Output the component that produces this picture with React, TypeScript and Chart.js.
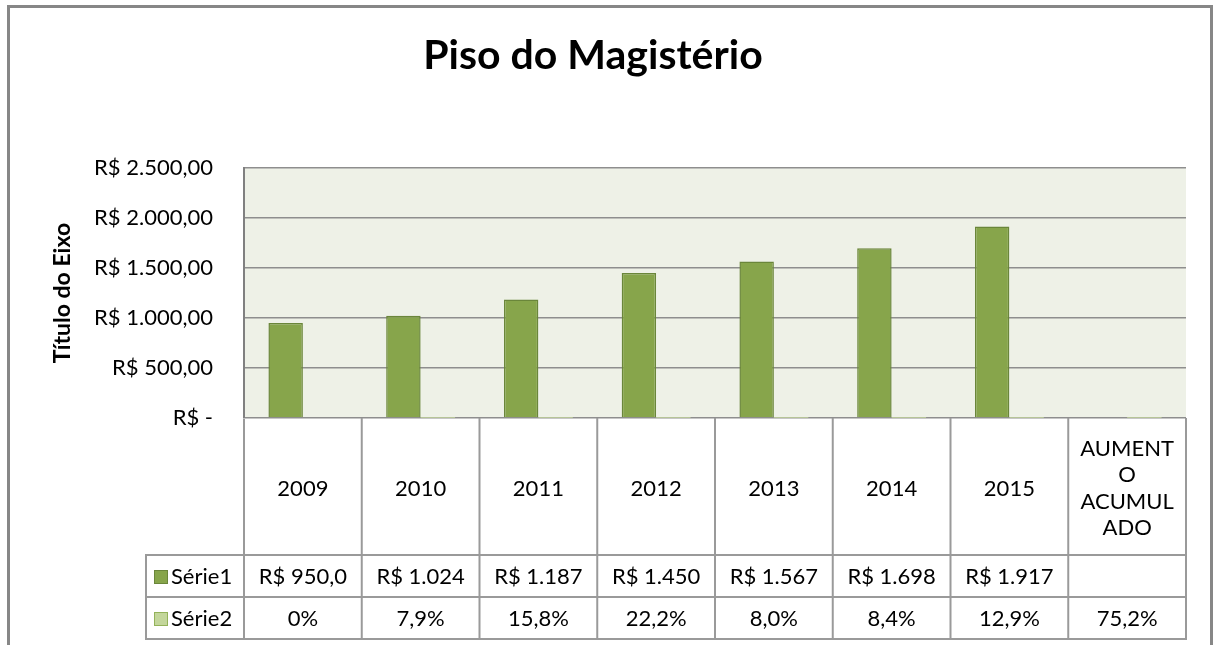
import React, { useEffect, useRef } from 'react';
import { Chart, registerables } from 'chart.js';

Chart.register(...registerables);

// ---- data ----
const categoryLabels: string[][] = [
  ['2009'], ['2010'], ['2011'], ['2012'], ['2013'], ['2014'], ['2015'],
  ['AUMENT', 'O', 'ACUMUL', 'ADO'],
];
const serie1Values: (number | null)[] = [950, 1024, 1187, 1450, 1567, 1698, 1917, null];
const serie2Values: number[] = [0, 0.079, 0.158, 0.222, 0.08, 0.084, 0.129, 0.752];
const serie1Labels: string[] = ['R$ 950,0', 'R$ 1.024', 'R$ 1.187', 'R$ 1.450', 'R$ 1.567', 'R$ 1.698', 'R$ 1.917', ''];
const serie2Labels: string[] = ['0%', '7,9%', '15,8%', '22,2%', '8,0%', '8,4%', '12,9%', '75,2%'];
const yTickLabels: string[] = ['R$ -', 'R$ 500,00', 'R$ 1.000,00', 'R$ 1.500,00', 'R$ 2.000,00', 'R$ 2.500,00'];
const seriesNames: string[] = ['Série1', 'Série2'];
const chartTitle = 'Piso do Magistério';
const axisTitle = 'Título do Eixo';

const FONT = 'Lato';
const S1_FILL = '#87A54B';
const S1_BORDER = '#6A863A';
const S2_FILL = '#C3D69B';
const S2_BORDER = '#93B25A';
const PLOT_BG = '#EEF1E7';
const TABLE_LINE = '#9a9a9a';

const backgroundPlugin = {
  id: 'bgFrame',
  beforeDraw(chart: any) {
    const { ctx, chartArea } = chart;
    ctx.save();
    ctx.fillStyle = '#ffffff';
    ctx.fillRect(0, 0, chart.width, chart.height);
    ctx.fillStyle = PLOT_BG;
    ctx.fillRect(chartArea.left, chartArea.top, chartArea.right - chartArea.left, chartArea.bottom - chartArea.top);
    ctx.strokeStyle = '#878787';
    ctx.lineWidth = 3;
    ctx.strokeRect(8.5, 6.5, chart.width - 11, chart.height + 50);
    ctx.restore();
  },
};

const tablePlugin = {
  id: 'dataTable',
  afterDraw(chart: any) {
    const { ctx, chartArea } = chart;
    const xs = chart.scales.x;
    const n = categoryLabels.length;
    const w = (chartArea.right - chartArea.left) / n;
    const bounds: number[] = [];
    for (let i = 0; i < n; i++) bounds.push(xs.getPixelForValue(i) - w / 2);
    bounds.push(xs.getPixelForValue(n - 1) + w / 2);
    const headerTop = chartArea.bottom;
    const headerBottom = headerTop + 137;
    const row1Bottom = headerBottom + 42;
    const row2Bottom = row1Bottom + 42;
    const legendLeft = chartArea.left - 98;

    ctx.save();
    ctx.strokeStyle = TABLE_LINE;
    ctx.lineWidth = 2;
    ctx.beginPath();
    bounds.forEach((b, i) => {
      ctx.moveTo(b, i === 0 ? headerTop + 1 : headerTop);
      ctx.lineTo(b, row2Bottom);
    });
    ctx.moveTo(legendLeft, headerBottom);
    ctx.lineTo(legendLeft, row2Bottom);
    [headerBottom, row1Bottom, row2Bottom].forEach((y) => {
      ctx.moveTo(legendLeft - 1, y);
      ctx.lineTo(chartArea.right + 1, y);
    });
    ctx.stroke();

    ctx.fillStyle = '#000000';
    ctx.textAlign = 'center';
    ctx.textBaseline = 'middle';
    ctx.font = `22px ${FONT}`;
    const lh = 26.5;
    const hMid = (headerTop + headerBottom) / 2 + 2;
    categoryLabels.forEach((lines, i) => {
      const cx = xs.getPixelForValue(i);
      const start = hMid - ((lines.length - 1) * lh) / 2;
      lines.forEach((t, j) => ctx.fillText(t, cx, start + j * lh));
    });
    const r1Mid = (headerBottom + row1Bottom) / 2 + 1;
    const r2Mid = (row1Bottom + row2Bottom) / 2 + 1;
    serie1Labels.forEach((t, i) => ctx.fillText(t, xs.getPixelForValue(i), r1Mid));
    serie2Labels.forEach((t, i) => ctx.fillText(t, xs.getPixelForValue(i), r2Mid));

    // legend keys
    const keys = [
      { name: seriesNames[0], fill: S1_FILL, border: S1_BORDER, y: r1Mid },
      { name: seriesNames[1], fill: S2_FILL, border: S2_BORDER, y: r2Mid },
    ];
    keys.forEach((k) => {
      ctx.fillStyle = k.fill;
      ctx.fillRect(legendLeft + 8, k.y - 7, 14, 14);
      ctx.strokeStyle = k.border;
      ctx.lineWidth = 1;
      ctx.strokeRect(legendLeft + 8.5, k.y - 6.5, 13, 13);
      ctx.fillStyle = '#000000';
      ctx.textAlign = 'left';
      ctx.fillText(k.name, legendLeft + 25, k.y);
    });
    ctx.restore();
  },
};

export default function App() {
  const canvasRef = useRef<HTMLCanvasElement | null>(null);

  useEffect(() => {
    document.body.style.margin = '0';
    const canvas = canvasRef.current;
    if (!canvas) return;
    const chart = new Chart(canvas, {
      type: 'bar',
      data: {
        labels: categoryLabels.map((l) => l.join(' ')),
        datasets: [
          {
            label: seriesNames[0],
            data: serie1Values,
            backgroundColor: S1_FILL,
            borderColor: S1_BORDER,
            borderWidth: 1.5,
            barPercentage: 1,
            categoryPercentage: 0.585,
          },
          {
            label: seriesNames[1],
            data: serie2Values,
            backgroundColor: S2_FILL,
            borderColor: S2_BORDER,
            borderWidth: 0,
            barPercentage: 1,
            categoryPercentage: 0.585,
          },
        ],
      },
      options: {
        responsive: false,
        animation: false,
        devicePixelRatio: 1,
        layout: { padding: { left: 0, right: 28, top: 0, bottom: 227 } },
        plugins: {
          legend: { display: false },
          tooltip: { enabled: false },
          title: {
            display: true,
            text: chartTitle,
            color: '#000000',
            font: { family: FONT, size: 41, weight: 'bold' },
            padding: { top: 31, bottom: 88 },
          },
        },
        scales: {
          x: {
            display: false,
          },
          y: {
            min: 0,
            max: 2500,
            afterFit: (scale: any) => {
              scale.width = 244;
            },
            ticks: {
              stepSize: 500,
              padding: 31,
              color: '#000000',
              font: { family: FONT, size: 22 },
              callback: (_v: any, index: number) => yTickLabels[index],
            },
            grid: {
              color: '#8e8e8e',
              lineWidth: 1.5,
              drawTicks: false,
            },
            border: { display: true, color: '#808080', width: 2 },
            title: {
              display: true,
              text: axisTitle,
              color: '#000000',
              font: { family: FONT, size: 23, weight: 'bold' },
              padding: { top: 49, bottom: 0 },
            },
          },
        },
      },
      plugins: [backgroundPlugin, tablePlugin],
    });
    return () => chart.destroy();
  }, []);

  return (
    <div style={{ width: 1214, height: 645 }}>
      <canvas ref={canvasRef} width={1214} height={645} style={{ display: 'block' }} />
    </div>
  );
}
